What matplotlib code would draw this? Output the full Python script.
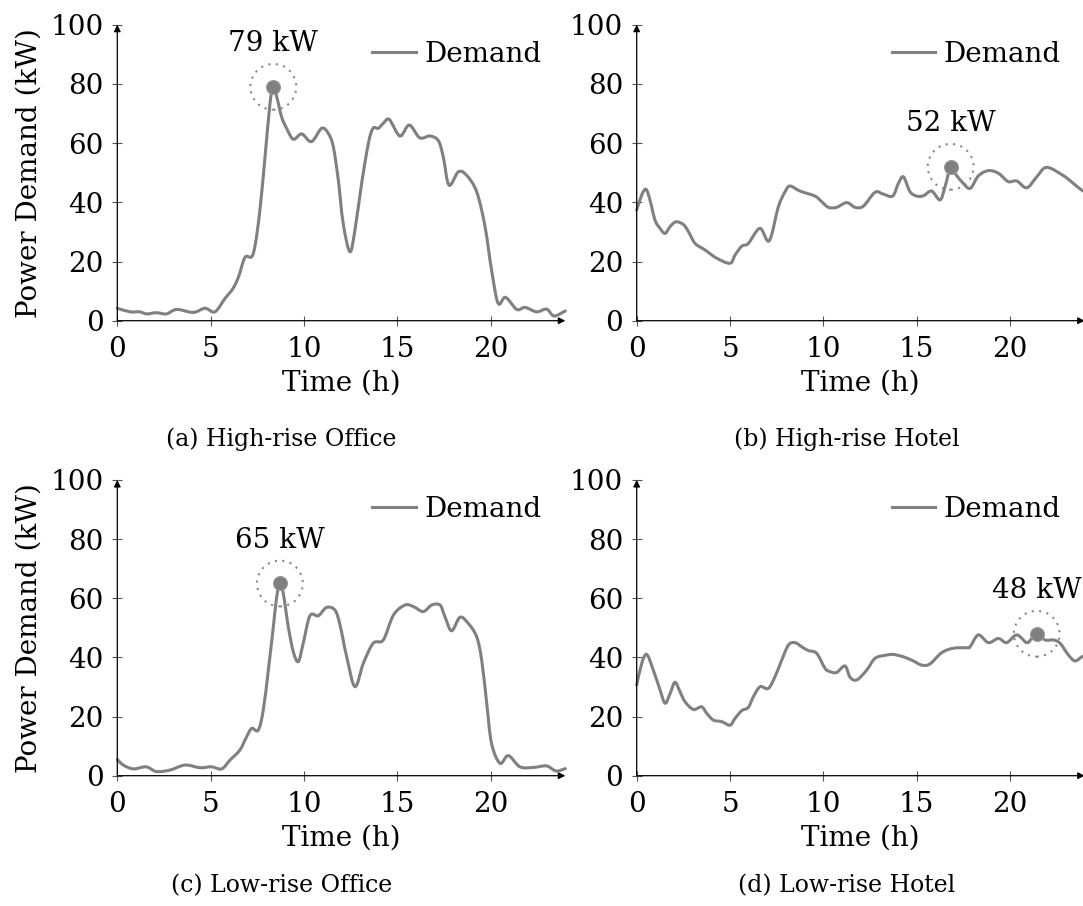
import numpy as np
import matplotlib
matplotlib.use("Agg")
import matplotlib.pyplot as plt
from matplotlib.path import Path
from matplotlib.patches import PathPatch
from matplotlib.lines import Line2D

# ---------------- data: hourly power demand profiles (kW) ----------------
office_high_t = [0, 0.68, 1.2, 1.57, 2.1, 2.64, 3.18, 4.07, 4.7, 5.23, 5.77, 6.2, 6.5,
                 6.84, 7.2, 7.4, 7.64, 7.9, 8.18, 8.36, 8.54, 8.8, 9.07, 9.43, 9.88,
                 10.4, 10.95, 11.3, 11.57, 11.84, 12.1, 12.46, 12.73, 13.09, 13.45,
                 13.7, 13.98, 14.25, 14.57, 15.14, 15.64, 16.2, 16.75, 17.2, 17.46,
                 17.77, 18.27, 18.7, 19.25, 19.7, 20.05, 20.4, 20.8, 21.4, 21.84,
                 22.46, 23.0, 23.4, 24.0]
office_high_p = [4.2, 3.0, 3.0, 2.3, 2.7, 2.3, 3.8, 2.8, 4.2, 3.0, 7.5, 10.9, 14.9,
                 21.4, 21.6, 26.1, 37.4, 54.3, 73.4, 79.0, 75.7, 68.9, 65.0, 61.3, 63.1,
                 60.5, 65.0, 63.3, 58.8, 47.5, 32.9, 23.3, 30.6, 46.4, 59.9,
                 65.0, 65.0, 66.7, 68.0, 62.4, 66.1, 61.8, 62.4, 60.8, 55.4,
                 45.8, 50.3, 49.2, 43.6, 31.8, 17.1, 5.9, 7.9, 3.8, 4.5,
                 3.0, 3.9, 1.6, 3.3]

hotel_high_t = [0, 0.27, 0.5, 0.71, 0.98, 1.25, 1.52, 1.79, 2.1, 2.5, 2.77, 3.13, 3.66,
                4.29, 5.0, 5.27, 5.63, 5.98, 6.6, 7.1, 7.59, 7.95, 8.21, 8.75, 9.55,
                9.91, 10.27, 10.71, 11.25, 11.7, 12.14, 12.77, 13.2, 13.71, 14.02,
                14.29, 14.64, 15.0, 15.36, 15.8, 16.25, 16.52, 16.82, 17.05, 17.41,
                17.86, 18.3, 18.84, 19.38, 19.9, 20.36, 20.9, 21.43, 21.96, 22.86,
                23.39, 23.84, 24.0]
hotel_high_p = [37.4, 42.5, 44.4, 40.8, 34.0, 31.2, 29.5, 31.8, 33.4, 32.5, 30.1, 26.1, 23.9,
                21.1, 19.4, 22.2, 25.2, 26.1, 31.2, 27.0, 38.5, 43.6, 45.5, 43.8, 42.1,
                40.2, 38.3, 38.3, 39.9, 38.3, 38.7, 43.4, 42.8, 42.1, 46.4,
                48.6, 43.6, 42.1, 42.2, 43.8, 40.8, 45.3, 52.0, 49.8, 47.0,
                44.7, 48.9, 50.7, 49.8, 47.0, 47.2, 44.9, 48.6, 51.8, 49.0,
                46.4, 44.1, 43.8]

office_low_t = [0, 0.32, 0.86, 1.54, 2.1, 2.82, 3.63, 4.43, 5.05, 5.59, 6.04, 6.57, 6.93,
                7.2, 7.55, 7.82, 8.09, 8.36, 8.54, 8.71, 8.89, 9.16, 9.43, 9.7, 9.96,
                10.32, 10.77, 11.21, 11.66, 11.93, 12.29, 12.73, 13.18, 13.71, 14.25,
                14.79, 15.41, 15.86, 16.39, 16.84, 17.29, 17.55, 17.91, 18.36, 18.8,
                19.25, 19.52, 19.79, 20.05, 20.5, 20.95, 21.57, 22.29, 23.0, 23.5, 24.0]
office_low_p = [5.5, 3.6, 2.3, 3.0, 1.4, 1.9, 3.6, 2.7, 3.0, 2.3, 5.3, 8.7, 13.2,
                16.0, 15.4, 22.2, 35.7, 50.4, 60.5, 65.0, 61.7, 50.4, 41.9, 38.6, 44.8,
                54.1, 54.1, 56.9, 56.0, 51.0, 40.2, 30.1, 38.0, 44.8, 45.9,
                54.3, 57.7, 57.2, 55.5, 57.7, 57.7, 53.8, 49.0, 53.6, 51.5,
                47.0, 39.1, 24.5, 10.9, 4.2, 6.8, 3.0, 2.8, 3.3, 1.6, 2.4]

hotel_low_t = [0, 0.27, 0.54, 0.89, 1.25, 1.52, 1.79, 2.05, 2.32, 2.59, 3.04, 3.48, 3.75,
               4.11, 4.55, 5.0, 5.27, 5.63, 5.98, 6.25, 6.61, 7.05, 7.41, 7.77, 8.13,
               8.48, 8.84, 9.2, 9.64, 10.09, 10.36, 10.71, 11.16, 11.43, 11.79, 12.32,
               12.77, 13.39, 13.75, 14.29, 14.82, 15.27, 15.71, 16.34, 16.96, 17.68,
               17.86, 18.3, 18.84, 19.38, 19.82, 20.36, 20.89, 21.16, 21.43, 21.88,
               22.32, 22.68, 23.13, 23.48, 23.84, 24.0]
hotel_low_p = [30.7, 38.0, 41.0, 35.7, 29.0, 24.5, 27.8, 31.6, 28.4, 25.0, 22.4, 23.3, 21.1,
               18.8, 18.3, 17.1, 19.4, 22.0, 23.1, 26.7, 30.1, 29.5, 33.5, 39.1, 44.2,
               45.0, 43.6, 42.3, 41.4, 36.3, 35.2, 34.9, 37.1, 33.3, 32.4, 35.7,
               39.7, 40.8, 41.0, 40.2, 38.8, 37.4, 37.8, 41.6, 43.1, 43.3,
               43.6, 47.6, 45.0, 46.4, 45.0, 47.6, 45.0, 46.4, 48.0, 45.9,
               45.9, 44.8, 40.8, 38.8, 40.2, 40.5]

captions = ["(a) High-rise Office", "(b) High-rise Hotel",
            "(c) Low-rise Office", "(d) Low-rise Hotel"]
x_ticks = [0, 5, 10, 15, 20]
y_ticks = [0, 20, 40, 60, 80, 100]

# ---------------- styling ----------------
plt.rcParams["font.family"] = ["DejaVu Serif"]
plt.rcParams["mathtext.fontset"] = "dejavuserif"
FS = 20
LINE_C = "#808080"


def smooth_path(t, p, k=1.0 / 6.0):
    """Cubic Bezier path through the given points (Catmull-Rom style tangents)."""
    pts = np.column_stack([t, p]).astype(float)
    n = len(pts)
    verts = [pts[0]]
    codes = [Path.MOVETO]
    for i in range(n - 1):
        p0 = pts[max(i - 1, 0)]
        p1 = pts[i]
        p2 = pts[i + 1]
        p3 = pts[min(i + 2, n - 1)]
        c1 = p1 + (p2 - p0) * k
        c2 = p2 - (p3 - p1) * k
        verts += [c1, c2, p2]
        codes += [Path.CURVE4] * 3
    return Path(verts, codes)


W, H = 1083, 906
fig = plt.figure(figsize=(W / 100, H / 100), dpi=100)

# axes rectangles in pixels
x0_left, x0_right = 117.3, 636.7
ax_w = 448.0
rows = [(24.7, 320.7), (480.0, 775.7)]

panels = [
    (office_high_t, office_high_p, 0, 0),
    (hotel_high_t, hotel_high_p, 0, 1),
    (office_low_t, office_low_p, 1, 0),
    (hotel_low_t, hotel_low_p, 1, 1),
]

cap_x = [281.7, 847.0]
cap_y = [439.0, 886.0]

for idx, (t, p, r, c) in enumerate(panels):
    top, bot = rows[r]
    left = x0_left if c == 0 else x0_right
    ax = fig.add_axes([left / W, 1 - bot / H, ax_w / W, (bot - top) / H])
    ax.set_xlim(0, 24)
    ax.set_ylim(0, 100)

    curve = PathPatch(smooth_path(t, p), facecolor="none", edgecolor=LINE_C,
                      lw=2.2, joinstyle="round", capstyle="round", zorder=3,
                      clip_on=False)
    ax.add_patch(curve)

    # peak marker with dotted halo and label
    k = int(np.argmax(p))
    tp, pp = t[k], p[k]
    ax.scatter([tp], [pp], s=33 ** 2, facecolors="none", edgecolors="#888888",
               linewidths=1.5, linestyles=(0, (1.0, 2.6)), zorder=4, clip_on=False)
    ax.plot([tp], [pp], "o", color=LINE_C, ms=10, mec="#999999", mew=0.8,
            zorder=5, clip_on=False)
    ax.annotate(f"{pp:.0f} kW", xy=(tp, pp), xytext=(0, 31), textcoords="offset points",
                ha="center", va="center", fontsize=FS)

    # axis lines with arrow heads
    for s in ax.spines.values():
        s.set_visible(False)
    arrow = dict(arrowstyle="-|>", lw=0.9, color="black", shrinkA=0, shrinkB=0,
                 mutation_scale=10)
    ax.annotate("", xy=(1.0, 0), xytext=(0, 0), xycoords="axes fraction",
                arrowprops=arrow, annotation_clip=False)
    ax.annotate("", xy=(0, 1.0), xytext=(0, 0), xycoords="axes fraction",
                arrowprops=arrow, annotation_clip=False)

    ax.set_xticks(x_ticks)
    ax.set_yticks(y_ticks)
    ax.tick_params(direction="inout", length=7.5, width=0.8, color="#555555",
                   labelsize=FS)
    ax.tick_params(axis="x", pad=7)
    ax.tick_params(axis="y", pad=6)

    ax.set_xlabel("Time (h)", fontsize=FS, labelpad=5)
    if c == 0:
        ax.set_ylabel("Power Demand (kW)", fontsize=FS, labelpad=6)

    handle = Line2D([], [], color=LINE_C, lw=2.2)
    ax.legend([handle], ["Demand"], loc="center right",
              bbox_to_anchor=(0.947, 0.901), frameon=False, fontsize=FS,
              handlelength=1.55, handletextpad=0.32, borderpad=0, borderaxespad=0)

    fig.text(cap_x[c] / W, 1 - cap_y[r] / H, captions[idx], ha="center",
             va="center", fontsize=17)

fig.savefig("out.png", dpi=100)
